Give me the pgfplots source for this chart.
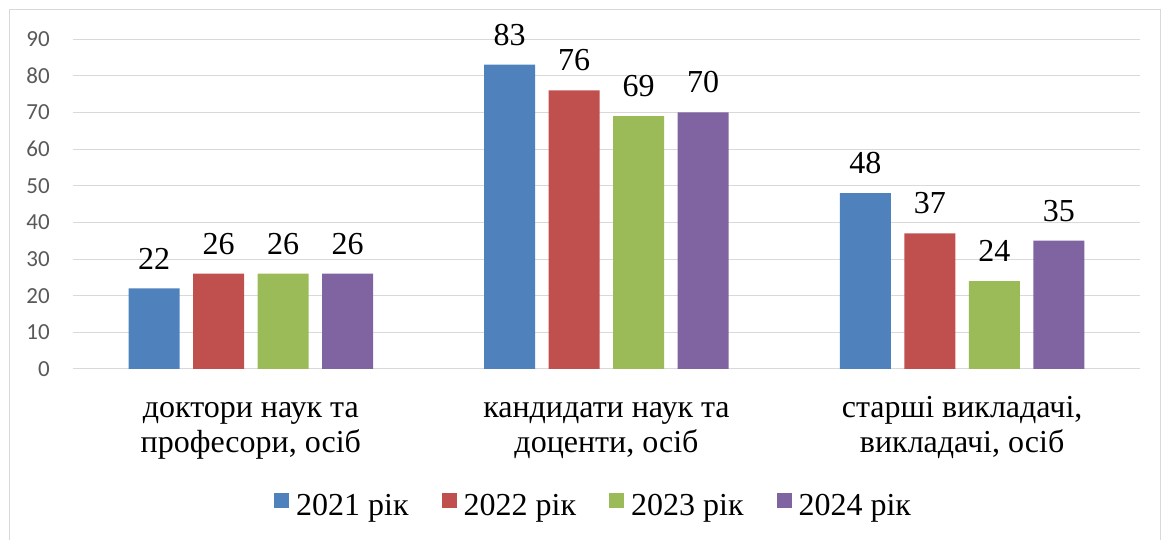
\documentclass[border=0pt]{standalone}
\usepackage{fontspec}
\setmainfont{Liberation Serif}
\newfontfamily\calibri{Carlito}
\usepackage{pgfplots}
\pgfplotsset{compat=1.18}
\definecolor{cA}{HTML}{4F81BD}
\definecolor{cB}{HTML}{C0504D}
\definecolor{cC}{HTML}{9BBB59}
\definecolor{cD}{HTML}{8064A2}
\definecolor{gridgray}{HTML}{D9D9D9}
\definecolor{framegray}{HTML}{D9D9D9}
\definecolor{ticktext}{HTML}{595959}
\begin{document}
\begin{tikzpicture}
\path (0,0) rectangle (1167pt,540pt);
\draw[color=framegray, line width=1pt] (9pt,0pt) -- (9pt,530pt) -- (1160pt,530pt) -- (1160pt,0pt);
\begin{axis}[
  at={(73pt,171pt)}, anchor=south west,
  scale only axis, width=1067pt, height=330pt,
  ybar=13.5pt, bar width=51pt,
  xmin=-0.5, xmax=2.5, ymin=0, ymax=90,
  xtick={0,1,2},
  xticklabels={{\strut доктори наук та\\професори, осіб},{\strut кандидати наук та\\доценти, осіб},{\strut старші викладачі,\\викладачі, осіб}},
  ytick={0,10,...,90},
  ymajorgrids, grid style={color=gridgray, line width=1pt},
  axis line style={draw=none},
  major tick length=0pt,
  /pgf/number format/assume math mode=true,
  xticklabel style={font=\fontsize{32}{35}\selectfont, align=center, anchor=north, inner sep=0pt, yshift=-24pt},
  yticklabel style={font=\calibri\fontsize{23}{26}\selectfont, color=ticktext, anchor=east, inner sep=0pt, xshift=-23pt},
  nodes near coords,
  every node near coord/.append style={font=\fontsize{32}{35}\selectfont, color=black, inner sep=0pt, anchor=south, yshift=19pt},
  legend style={at={(0.487,-0.412)}, anchor=center, draw=none, fill=none, legend columns=4,
    font=\fontsize{32}{35}\selectfont, nodes={inner sep=0pt},
    /tikz/every odd column/.append style={column sep=7pt},
    /tikz/every even column/.append style={column sep=33pt}},
  legend image code/.code={\fill[#1] (0pt,-2.5pt) rectangle (15pt,12.5pt);},
]
\addplot[fill=cA, draw=none] coordinates {(0,22) (1,83) (2,48)};
\addplot[fill=cB, draw=none] coordinates {(0,26) (1,76) (2,37)};
\addplot[fill=cC, draw=none] coordinates {(0,26) (1,69) (2,24)};
\addplot[fill=cD, draw=none] coordinates {(0,26) (1,70) (2,35)};
\legend{2021 рік, 2022 рік, 2023 рік, 2024 рік}
\end{axis}
\end{tikzpicture}
\end{document}
